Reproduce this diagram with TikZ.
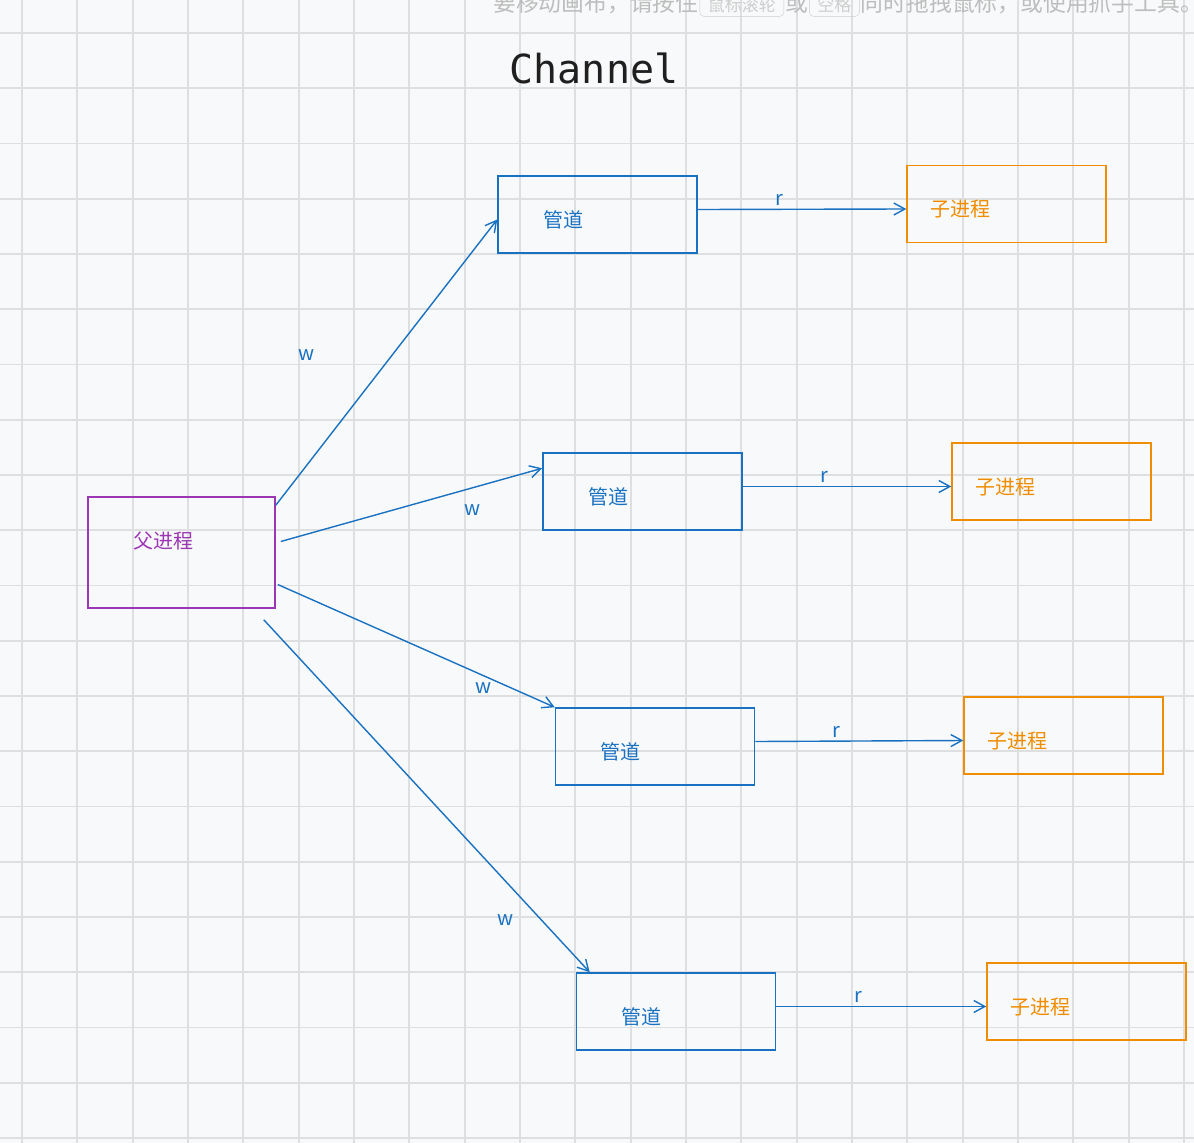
\documentclass[tikz,border=0pt]{standalone}
\usepackage{fontspec}
\usetikzlibrary{arrows.meta,positioning}
\newfontfamily\cjk{Noto Sans CJK SC}
\newfontfamily\titlefont{DejaVu Sans Mono}
\definecolor{CanvasBg}{HTML}{F8F9FA}
\definecolor{GridGray}{HTML}{DEDFE1}
\definecolor{PipeBlue}{HTML}{1971C2}
\definecolor{ChildOrange}{HTML}{F08C00}
\definecolor{ParentViolet}{HTML}{9C36B5}
\definecolor{HintGray}{HTML}{BDBDBD}
\definecolor{KeyGray}{HTML}{CDCDCD}

\begin{document}
\begin{tikzpicture}[x=1pt, y=-1pt,
  gridline/.style={GridGray, line width=1.8pt},
  hint/.style={text=HintGray, font=\cjk\fontsize{22.8}{22.8}\selectfont, inner sep=0pt},
  keycap/.style={draw=KeyGray, rounded corners=4pt, text=KeyGray, font=\cjk\fontsize{17}{17}\selectfont, inner xsep=8pt, inner ysep=3pt},
  box/.style={line width=1.5pt, minimum height=77pt, align=left, font=\cjk\fontsize{20}{20}\selectfont, text height=29pt, text depth=4pt},
  pipebox/.style={box, draw=PipeBlue, text=PipeBlue, inner xsep=45pt, text width=109pt},
  childbox/.style={box, draw=ChildOrange, text=ChildOrange, inner xsep=23pt, text width=153pt},
  parentbox/.style={box, draw=ParentViolet, text=ParentViolet, inner xsep=45pt, text width=97pt, minimum height=111pt, text height=17pt, text depth=25pt},
  lbl/.style={text=PipeBlue, font=\cjk\fontsize{20}{20}\selectfont, inner sep=1pt},
  arr/.style={-{Straight Barb[length=11pt,width=12pt]}, PipeBlue, line width=1.4pt}
]
\useasboundingbox (0,0) rectangle (1194,1143);
\clip (0,0) rectangle (1194,1143);
\fill[CanvasBg] (0,0) rectangle (1194,1143);

% canvas grid
\foreach \gx in {0,...,21} \draw[gridline] (22+55.33*\gx,0) -- (22+55.33*\gx,1143);
\foreach \gy in {0,...,20} \draw[gridline] (0,33+55.25*\gy) -- (1194,33+55.25*\gy);

% hint line, cut by the top edge
\node[hint, anchor=base west] (hinta) at (493,12) {要移动画布，请按住};
\node[keycap, base right=1pt of hinta] (keya) {鼠标滚轮};
\node[hint, base right=1pt of keya] (hintb) {或};
\node[keycap, base right=1pt of hintb] (keyb) {空格};
\node[hint, base right=1pt of keyb] (hintc) {同时拖拽鼠标，或使用抓手工具。};

\node[font=\titlefont\fontsize{40}{40}\selectfont, text=black!88] (title) at (594,68) {Channel};

\node[parentbox] (parent) at (181.5,552.5) {父进程};

\node[pipebox] (pipe1) at (597.5,214.5) {管道};
\node[pipebox] (pipe2) at (642.5,491.5) {管道};
\node[pipebox] (pipe3) at (655,746.5) {管道};
\node[pipebox] (pipe4) at (676,1011.5) {管道};

\node[childbox] (child1) at (1006.5,204) {子进程};
\node[childbox] (child2) at (1051.5,481.5) {子进程};
\node[childbox] (child3) at (1063.5,735.5) {子进程};
\node[childbox] (child4) at (1086.5,1001.5) {子进程};

% write ends
\draw[arr] ([yshift=-9pt]parent.north east) -- ([yshift=-5pt]pipe1.west);
\draw[arr] ([shift={(5pt,11pt)}]parent.east) -- ([yshift=-16pt]pipe2.north west);
\draw[arr] ([shift={(2pt,-32pt)}]parent.east) -- (pipe3.north west);
\draw[arr] ([shift={(-12pt,-11pt)}]parent.south east) -- ([xshift=14pt]pipe4.north west);
\node[lbl] (w1) at (307,355) {w};
\node[lbl] (w2) at (473,510) {w};
\node[lbl] (w3) at (484,688) {w};
\node[lbl] (w4) at (506,920) {w};

% read ends
\draw[arr] ([yshift=5pt]pipe1.east) -- node[lbl, pos=0.39, above=2pt] {r} ([yshift=-5pt]child1.west);
\draw[arr] ([yshift=5pt]pipe2.east) -- node[lbl, pos=0.39, above=2pt] {r} ([yshift=-5pt]child2.west);
\draw[arr] ([yshift=5pt]pipe3.east) -- node[lbl, pos=0.39, above=2pt] {r} ([yshift=-5pt]child3.west);
\draw[arr] ([yshift=5pt]pipe4.east) -- node[lbl, pos=0.39, above=2pt] {r} ([yshift=-5pt]child4.west);
\end{tikzpicture}
\end{document}
